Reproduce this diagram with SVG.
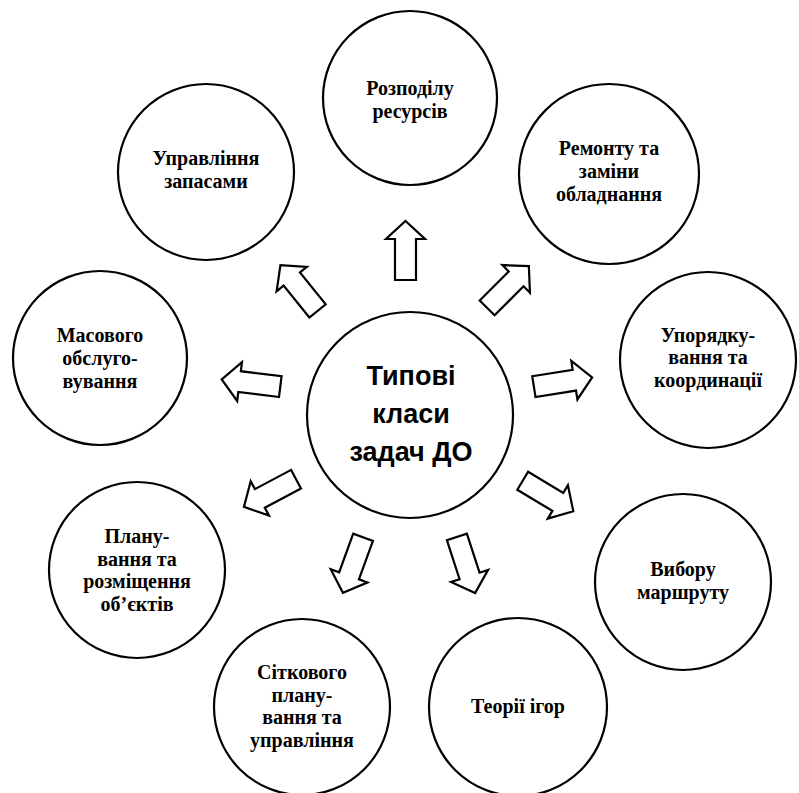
<svg xmlns="http://www.w3.org/2000/svg" xmlns:xlink="http://www.w3.org/1999/xlink" width="799" height="793" viewBox="0 0 799 793">
<style>
.c{fill:#fff;stroke:#000;stroke-width:2.2}
.t{font-family:"Liberation Serif","Times New Roman",serif;font-weight:bold;font-size:20px;text-anchor:middle;fill:#000}
.m{font-family:"Liberation Sans",Arial,sans-serif;font-weight:bold;font-size:27px;text-anchor:middle;fill:#000}
.a{fill:#fff;stroke:#000;stroke-width:2.2;stroke-linejoin:miter}
</style>
<defs>
<path id="arr" d="M-29.5,-10.5 L11.5,-10.5 L11.5,-19.5 L29.5,0 L11.5,19.5 L11.5,10.5 L-29.5,10.5 Z"/>
</defs>
<rect width="799" height="793" fill="#fff"/>
<g id="connectors">
<use xlink:href="#arr" class="a" transform="translate(405.5,250.5) rotate(-90)"/>
<use xlink:href="#arr" class="a" transform="translate(508,287) rotate(-45)"/>
<use xlink:href="#arr" class="a" transform="translate(299,288) rotate(-129)"/>
<use xlink:href="#arr" class="a" transform="translate(251,383) rotate(-173)"/>
<use xlink:href="#arr" class="a" transform="translate(563,382) rotate(-9)"/>
<use xlink:href="#arr" class="a" transform="translate(270,493) rotate(152)"/>
<use xlink:href="#arr" class="a" transform="translate(548,496) rotate(31)"/>
<use xlink:href="#arr" class="a" transform="translate(353,565) rotate(110)"/>
<use xlink:href="#arr" class="a" transform="translate(466,565) rotate(72)"/>
</g>
<g id="center">
<circle class="c" cx="410" cy="415" r="103"/>
<text class="m" x="411" y="385">Типові</text>
<text class="m" x="411" y="423">класи</text>
<text class="m" x="411" y="461">задач ДО</text>
</g>
<g id="n-rozpodil">
<circle class="c" cx="410" cy="98" r="87"/>
<text class="t" x="410" y="95">Розподілу</text>
<text class="t" x="410" y="118">ресурсів</text>
</g>
<g id="n-remont">
<circle class="c" cx="609" cy="174" r="90"/>
<text class="t" x="609" y="155">Ремонту та</text>
<text class="t" x="609" y="178">заміни</text>
<text class="t" x="609" y="201">обладнання</text>
</g>
<g id="n-uporiad">
<circle class="c" cx="708" cy="360" r="88"/>
<text class="t" x="708" y="342">Упорядку-</text>
<text class="t" x="708" y="364">вання та</text>
<text class="t" x="708" y="387">координації</text>
</g>
<g id="n-vyboru">
<circle class="c" cx="683" cy="582" r="88"/>
<text class="t" x="683" y="576">Вибору</text>
<text class="t" x="683" y="599">маршруту</text>
</g>
<g id="n-teorii">
<circle class="c" cx="518" cy="707" r="89"/>
<text class="t" x="518" y="713">Теорії ігор</text>
</g>
<g id="n-sitkovoho">
<circle class="c" cx="302" cy="707" r="88"/>
<text class="t" x="302" y="679">Сіткового</text>
<text class="t" x="302" y="702">плану-</text>
<text class="t" x="302" y="724">вання та</text>
<text class="t" x="302" y="747">управління</text>
</g>
<g id="n-planuvannia">
<circle class="c" cx="137" cy="570" r="88"/>
<text class="t" x="137" y="543">Плану-</text>
<text class="t" x="137" y="566">вання та</text>
<text class="t" x="137" y="588">розміщення</text>
<text class="t" x="137" y="611">об’єктів</text>
</g>
<g id="n-masovoho">
<circle class="c" cx="100" cy="358" r="87"/>
<text class="t" x="100" y="342">Масового</text>
<text class="t" x="100" y="365">обслуго-</text>
<text class="t" x="100" y="388">вування</text>
</g>
<g id="n-upravlinnia">
<circle class="c" cx="206" cy="172" r="88"/>
<text class="t" x="206" y="165">Управління</text>
<text class="t" x="206" y="188">запасами</text>
</g>
</svg>
